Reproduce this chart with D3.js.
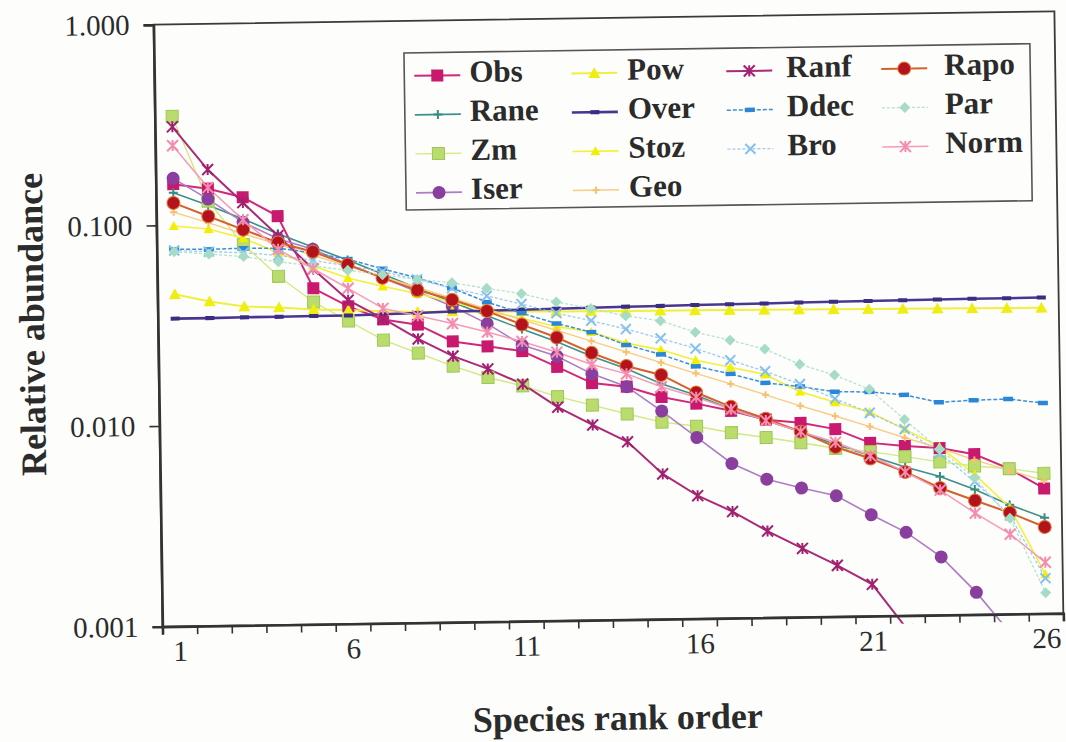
<!DOCTYPE html>
<html>
<head>
<meta charset="utf-8">
<script src="https://cdn.jsdelivr.net/npm/d3@7"></script>
<style>
  body { margin: 0; background: #fdfdfb; }
  svg { display: block; }
  text { font-family: "Liberation Serif", "Times New Roman", serif; fill: #2b2b2b; }
</style>
</head>
<body>
<svg width="1066" height="742"></svg>
<script>
// categories and tick labels
const ranks = [1, 2, 3, 4, 5, 6, 7, 8, 9, 10, 11, 12, 13, 14, 15, 16, 17, 18, 19, 20, 21, 22, 23, 24, 25, 26];
const xTickLabels = [1, 6, 11, 16, 21, 26];
const yTicks = [1, 0.1, 0.01, 0.001];
const yTickLabels = ['1.000', '0.100', '0.010', '0.001'];

// series (relative abundance per rank)
const obs  = [0.160, 0.151, 0.136, 0.109, 0.0473, 0.0382, 0.0327, 0.0306, 0.0251, 0.0236, 0.0222, 0.0184, 0.0152, 0.0145, 0.0128, 0.0118, 0.0108, 0.0097, 0.0093, 0.0086, 0.0073, 0.0070, 0.0068, 0.0063, 0.0053, 0.0042];
const rane = [0.145, 0.125, 0.106, 0.089, 0.076, 0.065, 0.055, 0.0465, 0.0395, 0.0335, 0.0286, 0.0246, 0.0207, 0.0178, 0.0149, 0.0130, 0.0110, 0.0096, 0.0084, 0.0072, 0.0063, 0.0055, 0.0049, 0.0042, 0.0035, 0.0030];
const zm   = [0.348, 0.131, 0.079, 0.0546, 0.0404, 0.0323, 0.0258, 0.0221, 0.0189, 0.0165, 0.0149, 0.0131, 0.0118, 0.0106, 0.0096, 0.0091, 0.0084, 0.0079, 0.0074, 0.0069, 0.0066, 0.0062, 0.0058, 0.0055, 0.0053, 0.0050];
const iser = [0.171, 0.134, 0.102, 0.084, 0.074, 0.062, 0.0527, 0.0446, 0.0376, 0.0306, 0.0238, 0.0208, 0.0169, 0.0145, 0.0109, 0.0080, 0.0059, 0.0049, 0.0044, 0.0040, 0.0032, 0.0026, 0.00195, 0.00129, 0.00079];
const pow  = [0.0452, 0.0414, 0.0388, 0.0382, 0.0371, 0.0366, 0.0359, 0.0354, 0.0354, 0.0352, 0.0350, 0.0348, 0.0347, 0.0346, 0.0345, 0.0344, 0.0343, 0.0342, 0.0341, 0.0340, 0.0339, 0.0338, 0.0337, 0.0336, 0.0335, 0.0334];
const over = [0.0342, 0.0342, 0.0343, 0.0343, 0.0344, 0.0344, 0.0347, 0.0350, 0.0354, 0.0355, 0.0357, 0.0359, 0.0361, 0.0363, 0.0364, 0.0366, 0.0367, 0.0368, 0.0370, 0.0371, 0.0372, 0.0373, 0.0374, 0.0375, 0.0375, 0.0376];
const stoz = [0.099, 0.095, 0.085, 0.0714, 0.0611, 0.0529, 0.0478, 0.0436, 0.0395, 0.0354, 0.0324, 0.0293, 0.0273, 0.0239, 0.0220, 0.0194, 0.0178, 0.0163, 0.0133, 0.0117, 0.0104, 0.0085, 0.0069, 0.0050, 0.0034, 0.00157];
const geo  = [0.116, 0.102, 0.0895, 0.0787, 0.0691, 0.0607, 0.0534, 0.0469, 0.0412, 0.0362, 0.0318, 0.0280, 0.0246, 0.0216, 0.0190, 0.0167, 0.0147, 0.0129, 0.0113, 0.0100, 0.0088, 0.0077, 0.0068, 0.0059, 0.0052, 0.0046];
const ranf = [0.309, 0.188, 0.128, 0.087, 0.059, 0.041, 0.033, 0.026, 0.0212, 0.0182, 0.0152, 0.0116, 0.0094, 0.0077, 0.0053, 0.0041, 0.0034, 0.0027, 0.0022, 0.0018, 0.00144, 0.00085];
const ddec = [0.0758, 0.0753, 0.0758, 0.0754, 0.0710, 0.0657, 0.0585, 0.0523, 0.0463, 0.0392, 0.0343, 0.0303, 0.0273, 0.0234, 0.0209, 0.0181, 0.0165, 0.0148, 0.0141, 0.0132, 0.0131, 0.0126, 0.0115, 0.0117, 0.0118, 0.0112];
const bro  = [0.0747, 0.0733, 0.0719, 0.0694, 0.0651, 0.0608, 0.0566, 0.0514, 0.0463, 0.0421, 0.0381, 0.0341, 0.0311, 0.0281, 0.0251, 0.0222, 0.0193, 0.0169, 0.0145, 0.0122, 0.0103, 0.0085, 0.0064, 0.0046, 0.0031, 0.0015];
const rapo = [0.129, 0.110, 0.0938, 0.0804, 0.0720, 0.0617, 0.0527, 0.0455, 0.0405, 0.0354, 0.0301, 0.0258, 0.0215, 0.0184, 0.0165, 0.0134, 0.0113, 0.0098, 0.0084, 0.0070, 0.0061, 0.0052, 0.0043, 0.0037, 0.0032, 0.0027];
const par  = [0.0737, 0.0713, 0.0689, 0.0645, 0.0611, 0.0578, 0.0546, 0.0514, 0.0492, 0.0459, 0.0429, 0.0388, 0.0358, 0.0327, 0.0307, 0.0268, 0.0243, 0.0218, 0.0182, 0.0160, 0.0135, 0.0095, 0.0067, 0.0048, 0.0030, 0.00127];
const norm = [0.249, 0.153, 0.105, 0.0744, 0.0592, 0.0470, 0.0371, 0.0339, 0.0308, 0.0278, 0.0248, 0.0218, 0.0188, 0.0168, 0.0144, 0.0127, 0.0110, 0.0096, 0.0084, 0.0074, 0.0063, 0.0052, 0.0042, 0.0032, 0.0025, 0.0018];

const series = [
  { name: 'Obs',  values: obs,  color: '#c8196e', line: '#d0287a', w: 2,   marker: 'square',   size: 12 },
  { name: 'Rane', values: rane, color: '#3a8a86', line: '#3f8f8a', w: 1.6, marker: 'plus',     size: 9 },
  { name: 'Zm',   values: zm,   color: '#b9dc6c', line: '#d3e884', w: 1.4, marker: 'square',   size: 12, stroke: '#9cc858' },
  { name: 'Iser', values: iser, color: '#8a3e9e', line: '#ad7cc4', w: 1.6, marker: 'circle',   size: 13 },
  { name: 'Pow',  values: pow,  color: '#eeee10', line: '#f0ef40', w: 2,   marker: 'triangle', size: 12 },
  { name: 'Over', values: over, color: '#3c2c84', line: '#4a3690', w: 2.6, marker: 'dash',     size: 9 },
  { name: 'Stoz', values: stoz, color: '#f2f000', line: '#f3f03c', w: 1.6, marker: 'triangle', size: 10 },
  { name: 'Geo',  values: geo,  color: '#f6c070', line: '#f8cc84', w: 1.4, marker: 'plus',     size: 7 },
  { name: 'Ranf', values: ranf, color: '#a22070', line: '#aa2a78', w: 2,   marker: 'star',     size: 11 },
  { name: 'Ddec', values: ddec, color: '#2a86d6', line: '#3a90da', w: 1.5, marker: 'dash',     size: 10, dash: '4,2' },
  { name: 'Bro',  values: bro,  color: '#86c0f0', line: '#9ccbf2', w: 1.3, marker: 'cross',    size: 10, dash: '3,2' },
  { name: 'Rapo', values: rapo, color: '#b3141c', line: '#d4602a', w: 2,   marker: 'circle',   size: 13, stroke: '#e0783a' },
  { name: 'Par',  values: par,  color: '#a6dcc6', line: '#b4e2cf', w: 1.3, marker: 'diamond',  size: 11, dash: '3,2' },
  { name: 'Norm', values: norm, color: '#f48cb0', line: '#f59ab8', w: 1.5, marker: 'star',     size: 11 }
];

const legendCols = [
  ['Obs', 'Rane', 'Zm', 'Iser'],
  ['Pow', 'Over', 'Stoz', 'Geo'],
  ['Ranf', 'Ddec', 'Bro'],
  ['Rapo', 'Par', 'Norm']
];

function markerPath(kind, s) {
  const h = s / 2;
  switch (kind) {
    case 'square':   return `M${-h},${-h}h${s}v${s}h${-s}Z`;
    case 'circle':   return d3.symbol(d3.symbolCircle, Math.PI * h * h)();
    case 'triangle': return `M0,${-h}L${h},${h * 0.8}L${-h},${h * 0.8}Z`;
    case 'diamond':  return `M0,${-h}L${h},0L0,${h}L${-h},0Z`;
    case 'dash':     return `M${-h},${-h * 0.45}h${s}v${h * 0.9}h${-s}Z`;
    case 'plus':     return `M${-h},0H${h}M0,${-h}V${h}`;
    case 'cross':    return `M${-h},${-h}L${h},${h}M${-h},${h}L${h},${-h}`;
    case 'star':     return `M${-h},${-h}L${h},${h}M${-h},${h}L${h},${-h}M0,${-h}V${h}`;
  }
}
const stroked = k => k === 'plus' || k === 'cross' || k === 'star';

const plotLeft = 158, plotRight = 1059, plotTop = 18, plotBottom = 620;

const x = d3.scaleLinear().domain([0.5, 26.5]).range([plotLeft, plotRight]);
const y = d3.scaleLog().domain([0.001, 1]).range([plotBottom, plotTop]);

const svg = d3.select('svg');
svg.append('rect').attr('width', 1066).attr('height', 742).attr('fill', '#fdfdfb');

// the scanned figure is slightly tilted
const g = svg.append('g').attr('transform', 'rotate(-0.85,608,325)');

g.append('clipPath').attr('id', 'plotclip')
  .append('rect')
    .attr('x', plotLeft).attr('y', plotTop)
    .attr('width', plotRight - plotLeft).attr('height', plotBottom - plotTop + 8);

// plot frame
g.append('rect')
  .attr('x', plotLeft).attr('y', plotTop)
  .attr('width', plotRight - plotLeft).attr('height', plotBottom - plotTop)
  .attr('fill', 'none')
  .attr('stroke', '#3a3a3a')
  .attr('stroke-width', 1.8);

// lines and markers
const plot = g.append('g').attr('clip-path', 'url(#plotclip)');

const line = d3.line()
  .x((d, i) => x(ranks[i]))
  .y(d => y(d));

series.forEach(s => {
  plot.append('path')
    .attr('d', line(s.values))
    .attr('fill', 'none')
    .attr('stroke', s.line)
    .attr('stroke-width', s.w)
    .attr('stroke-dasharray', s.dash || null);
});

series.forEach(s => {
  plot.append('g')
    .selectAll('path')
    .data(s.values)
    .join('path')
      .attr('transform', (d, i) => `translate(${x(ranks[i])},${y(d)})`)
      .attr('d', markerPath(s.marker, s.size))
      .attr('fill', stroked(s.marker) ? 'none' : s.color)
      .attr('stroke', stroked(s.marker) ? s.color : (s.stroke || 'none'))
      .attr('stroke-width', stroked(s.marker) ? 2 : 1);
});

// axes
const yAxis = g.append('g')
  .attr('transform', `translate(${plotLeft},0)`)
  .call(d3.axisLeft(y).tickValues(yTicks).tickFormat((d, i) => yTickLabels[i]).tickSize(10).tickPadding(14));

const xAxis = g.append('g')
  .attr('transform', `translate(0,${plotBottom})`)
  .call(d3.axisBottom(x).tickValues(d3.range(0.5, 27, 1)).tickFormat('').tickSize(8));

const xLabels = g.append('g')
  .attr('transform', `translate(0,${plotBottom})`)
  .call(d3.axisBottom(x).tickValues(xTickLabels).tickSize(0).tickPadding(14));

[yAxis, xAxis, xLabels].forEach(a => {
  a.select('.domain').attr('stroke', '#333').attr('stroke-width', 2.6);
  a.selectAll('.tick line').attr('stroke', '#333').attr('stroke-width', 1.6);
  a.selectAll('.tick text')
    .attr('fill', '#2b2b2b')
    .style('font-family', '"Liberation Serif", "Times New Roman", serif')
    .style('font-size', '29px');
});
xLabels.select('.domain').remove();

// axis titles
g.append('text')
  .attr('transform', 'translate(44,316) rotate(-90)')
  .attr('text-anchor', 'middle')
  .style('font-size', '36px')
  .style('font-weight', 'bold')
  .text('Relative abundance');

g.append('text')
  .attr('x', 612).attr('y', 730)
  .attr('text-anchor', 'middle')
  .style('font-size', '36px')
  .style('font-weight', 'bold')
  .text('Species rank order');

// legend
const legend = g.append('g');
legend.append('rect')
  .attr('x', 408).attr('y', 50)
  .attr('width', 626).attr('height', 157)
  .attr('fill', '#fdfdfb')
  .attr('stroke', '#555')
  .attr('stroke-width', 1.6);

const colMarkerX = [441, 598, 753, 908];
const colTextX = [473, 631, 790, 948];
const rowY = [69, 108, 147, 186];

legendCols.forEach((col, ci) => {
  col.forEach((name, ri) => {
    const s = series.find(d => d.name === name);
    const cx = colMarkerX[ci], cy = rowY[ri] + 4;
    legend.append('line')
      .attr('x1', cx - 23).attr('x2', cx + 23)
      .attr('y1', cy).attr('y2', cy)
      .attr('stroke', s.line)
      .attr('stroke-width', s.w)
      .attr('stroke-dasharray', s.dash || null);
    legend.append('path')
      .attr('transform', `translate(${cx},${cy})`)
      .attr('d', markerPath(s.marker, s.size))
      .attr('fill', stroked(s.marker) ? 'none' : s.color)
      .attr('stroke', stroked(s.marker) ? s.color : (s.stroke || 'none'))
      .attr('stroke-width', stroked(s.marker) ? 2 : 1);
    legend.append('text')
      .attr('x', colTextX[ci]).attr('y', rowY[ri] + 11)
      .style('font-size', '31px')
      .style('font-weight', 'bold')
      .text(name);
  });
});
</script>
</body>
</html>
